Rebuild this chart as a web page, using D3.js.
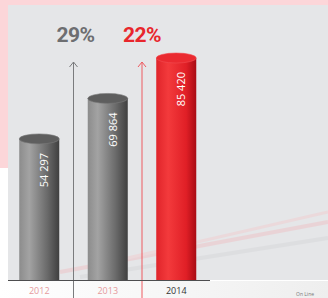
<!DOCTYPE html>
<html>
<head>
<meta charset="utf-8">
<script src="https://cdn.jsdelivr.net/npm/d3@7"></script>
<style>
  html, body { margin: 0; padding: 0; background: #ffffff; }
  svg { display: block; font-family: "Open Sans", "DejaVu Sans", sans-serif; }
</style>
</head>
<body>
<div id="container"></div>
<script>
// chart values
const years = ["2012", "2013", "2014"];
const values = [54297, 69864, 85420];
const valueLabels = ["54 297", "69 864", "85 420"];
const growthLabels = ["29%", "22%"];

const widthSVG = 328,
    heightSVG = 298,
    baseY = 280;

const svg = d3.select('#container')
    .append('svg')
    .attr('width', widthSVG)
    .attr('height', heightSVG);

const defs = svg.append('defs');

// gradients for the cylinders
function cylGradient(id, stops) {
    const g = defs.append('linearGradient')
        .attr('id', id)
        .attr('x1', '0%').attr('x2', '100%')
        .attr('y1', '0%').attr('y2', '0%');
    stops.forEach(s => g.append('stop').attr('offset', s[0]).attr('stop-color', s[1]));
}
cylGradient('greyBar', [['0%', '#8c8c8c'], ['25%', '#a3a3a3'], ['70%', '#6a6a6a'], ['100%', '#3f3f3f']]);
cylGradient('redBar', [['0%', '#e0242a'], ['30%', '#f33a3c'], ['75%', '#e01f26'], ['100%', '#a80c14']]);

const bottomFade = defs.append('linearGradient')
    .attr('id', 'bottomFade')
    .attr('x1', '0%').attr('x2', '100%');
bottomFade.append('stop').attr('offset', '0%').attr('stop-color', '#ffffff');
bottomFade.append('stop').attr('offset', '100%').attr('stop-color', '#eeeeee');

// background: pink frame, grey panel, white bottom strip
svg.append('rect').attr('width', widthSVG).attr('height', heightSVG).attr('fill', '#ffffff');
svg.append('rect').attr('x', 0).attr('y', 0).attr('width', widthSVG).attr('height', 168).attr('fill', '#fcd6d9');
svg.append('rect').attr('x', 8).attr('y', 5).attr('width', widthSVG - 8).attr('height', baseY - 5).attr('fill', '#e5e6e8');
svg.append('rect').attr('x', 0).attr('y', baseY + 1).attr('width', widthSVG).attr('height', heightSVG - baseY).attr('fill', 'url(#bottomFade)');

// faint decorative streaks
const streaks = svg.append('g').attr('opacity', 0.4);
[[60, 272, 328, 222, '#f1b9bd', 4], [110, 262, 328, 212, '#f4c6c9', 3], [80, 277, 328, 238, '#d2d3d6', 4]]
    .forEach(s => streaks.append('line')
        .attr('x1', s[0]).attr('y1', s[1]).attr('x2', s[2]).attr('y2', s[3])
        .attr('stroke', s[4]).attr('stroke-width', s[5]));

// scales
const x = d3.scaleBand()
    .domain(years)
    .range([5, 210.5])
    .paddingInner(0.416)
    .paddingOuter(0.208);

const y = d3.scaleLinear()
    .domain([0, d3.max(values)])
    .range([baseY, 58]);

const ry = 5;

// growth arrows between bars
const arrowColors = ['#7a7b7d', '#ee5a60'];
const textColors = ['#6d6e71', '#e8262c'];
growthLabels.forEach((label, i) => {
    const bx = x(years[i]) + x.bandwidth() + (x.step() - x.bandwidth()) / 2;
    const g = svg.append('g');
    g.append('line')
        .attr('x1', bx).attr('x2', bx)
        .attr('y1', 62).attr('y2', heightSVG)
        .attr('stroke', arrowColors[i]).attr('stroke-width', 1);
    g.append('path')
        .attr('d', `M${bx - 4},${67} L${bx},${62} L${bx + 4},${67}`)
        .attr('fill', 'none')
        .attr('stroke', arrowColors[i]).attr('stroke-width', 1);
    g.append('text')
        .attr('x', bx + (i === 0 ? 2 : 0))
        .attr('y', 42)
        .attr('text-anchor', 'middle')
        .attr('fill', textColors[i])
        .style('font-family', 'Roboto, "Open Sans", sans-serif')
        .style('font-weight', 700)
        .style('font-size', '21px')
        .style('letter-spacing', '-0.5px')
        .text(label);
});

// cylinders
const bars = svg.selectAll('g.bar')
    .data(values)
    .enter()
    .append('g')
    .attr('class', 'bar');

bars.append('rect')
    .attr('x', (d, i) => x(years[i]))
    .attr('y', d => y(d))
    .attr('width', x.bandwidth())
    .attr('height', d => baseY - y(d))
    .attr('fill', (d, i) => i === 2 ? 'url(#redBar)' : 'url(#greyBar)');

bars.append('ellipse')
    .attr('cx', (d, i) => x(years[i]) + x.bandwidth() / 2)
    .attr('cy', d => y(d))
    .attr('rx', x.bandwidth() / 2)
    .attr('ry', ry)
    .attr('fill', (d, i) => i === 2 ? '#ea2a30' : '#5e5e5e')
    .attr('stroke', (d, i) => i === 2 ? '#f24d52' : '#7a7a7a')
    .attr('stroke-width', 0.6);

// value labels inside bars
bars.append('text')
    .attr('transform', (d, i) => `translate(${x(years[i]) + x.bandwidth() / 2 + 9},${y(d) + 14}) rotate(-90)`)
    .attr('text-anchor', 'end')
    .attr('fill', '#ffffff')
    .style('font-size', '11px')
    .text((d, i) => valueLabels[i]);

// base line
svg.append('line')
    .attr('x1', 8).attr('x2', 210)
    .attr('y1', baseY + 0.5).attr('y2', baseY + 0.5)
    .attr('stroke', '#4d4d4f').attr('stroke-width', 1);

// year labels
svg.selectAll('text.year')
    .data(years)
    .enter()
    .append('text')
    .attr('class', 'year')
    .attr('x', d => x(d) + x.bandwidth() / 2)
    .attr('y', 294)
    .attr('text-anchor', 'middle')
    .attr('fill', (d, i) => i === 2 ? '#333333' : '#e69a9d')
    .style('font-size', '9px')
    .text(d => d);

// small source mark
svg.append('text')
    .attr('x', 296).attr('y', 296)
    .attr('fill', '#777777')
    .style('font-size', '5px')
    .text('On Line');
</script>
</body>
</html>
